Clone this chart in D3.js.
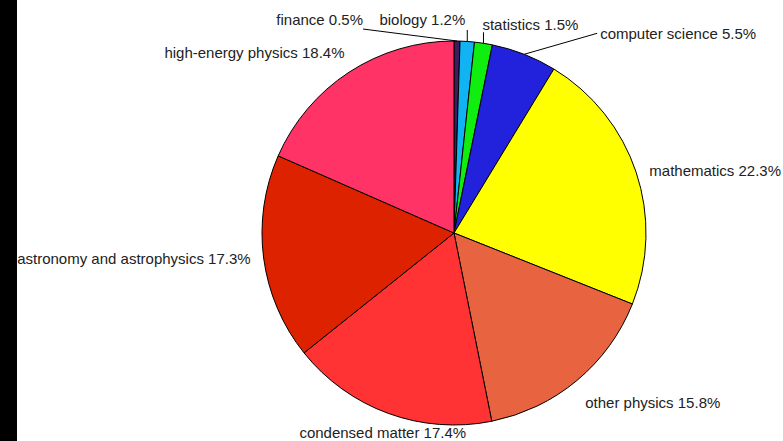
<!DOCTYPE html>
<html>
<head>
<meta charset="utf-8">
<script src="https://cdn.jsdelivr.net/npm/d3@7"></script>
<style>
	body { margin: 0; background: #fff; }
	svg { display: block; }
	.label { font-family: "Liberation Sans", Arial, Helvetica, sans-serif; font-size: 15px; fill: #222; }
</style>
</head>
<body>
<svg id="chart" width="783" height="441"></svg>
<script>
// slices, clockwise from 12 o'clock
const categories = ["finance", "biology", "statistics", "computer science", "mathematics",
	"other physics", "condensed matter", "astronomy and astrophysics", "high-energy physics"];
const shares = [0.5, 1.2, 1.5, 5.5, 22.3, 15.8, 17.4, 17.3, 18.4];
const sliceColors = ["#421a5e", "#10b4f2", "#10ee10", "#2222dd", "#ffff00",
	"#e8633f", "#ff3333", "#dd2200", "#ff3366"];

// label placement: leader = pulled out with a line from the arc
const labelLayout = [
	{leader: true,  lx: -94, ly: -12,   anchor: "end",    dx: 0,  dy: -4},
	{leader: true,  lx: 0,   ly: -11.5, anchor: "end",    dx: -2, dy: -5},
	{leader: true,  lx: 0,   ly: -11,   anchor: "start",  dx: -1, dy: -2.5},
	{leader: true,  lx: 73,  ly: -21,   anchor: "start",  dx: 3,  dy: 6},
	{leader: false, anchor: "start",  dx: -5, dy: 10},
	{leader: false, anchor: "start",  dx: -4, dy: 13},
	{leader: false, anchor: "middle", dx: 1,  dy: 7},
	{leader: false, anchor: "end",    dx: 6,  dy: 4},
	{leader: false, anchor: "end",    dx: 6,  dy: 2}
];

const width = 783, height = 441;
const cx = 454, cy = 233, radius = 192;

const svg = d3.select("#chart");

// black strip at the left edge
svg.append("rect")
	.attr("x", 0).attr("y", 0)
	.attr("width", 17).attr("height", height)
	.attr("fill", "#000");

const pie = d3.pie().sort(null).value(function(d) { return d; });
const arcs = pie(shares);
const arc = d3.arc().innerRadius(0).outerRadius(radius);

const g = svg.append("g").attr("transform", "translate(" + cx + "," + cy + ")");

g.selectAll("path.slice")
	.data(arcs)
	.join("path")
	.classed("slice", true)
	.attr("d", arc)
	.attr("fill", function(d, i) { return sliceColors[i]; })
	.attr("stroke", "#000")
	.attr("stroke-width", 1)
	.attr("stroke-linejoin", "round");

function pointAt(angle, r) {
	return [r * Math.sin(angle), -r * Math.cos(angle)];
}

arcs.forEach(function(d, i) {
	const mid = (d.startAngle + d.endAngle) / 2;
	const lay = labelLayout[i];
	let tx, ty;
	if (lay.leader) {
		const p = pointAt(mid, radius);
		const e = [p[0] + lay.lx, p[1] + lay.ly];
		g.append("line")
			.attr("x1", p[0]).attr("y1", p[1])
			.attr("x2", e[0]).attr("y2", e[1])
			.attr("stroke", "#000")
			.attr("stroke-width", 1);
		tx = e[0]; ty = e[1];
	}
	else {
		const p = pointAt(mid, radius * 1.1);
		tx = p[0]; ty = p[1];
	}
	g.append("text")
		.classed("label", true)
		.attr("x", tx + lay.dx)
		.attr("y", ty + lay.dy)
		.attr("text-anchor", lay.anchor)
		.text(categories[i] + " " + shares[i].toFixed(1) + "%");
});
</script>
</body>
</html>
